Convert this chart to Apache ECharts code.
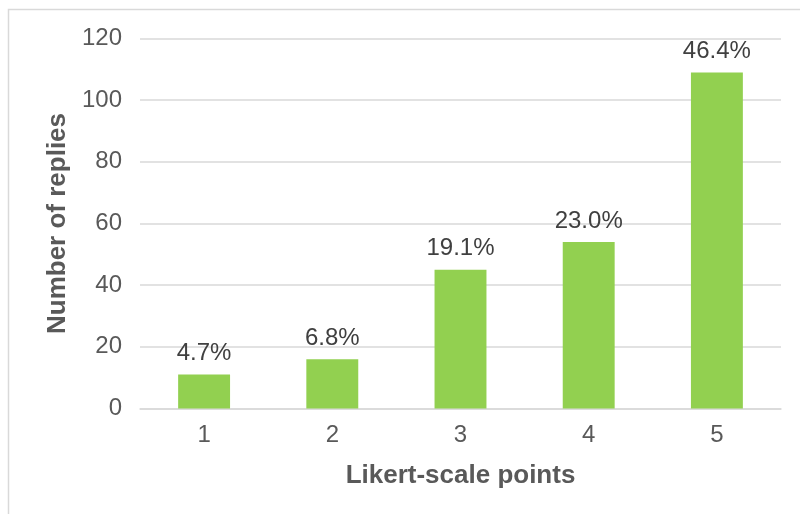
<!DOCTYPE html>
<html>
<head>
<meta charset="utf-8">
<script src="https://cdn.jsdelivr.net/npm/echarts@6/dist/echarts.min.js"></script>
<style>html,body{margin:0;padding:0;background:#fff;}#c{width:800px;height:514px;}</style>
</head>
<body>
<div id="c"></div>
<script>
const categories = ['1', '2', '3', '4', '5'];
const replies = [11, 16, 45, 54, 109];
const percentLabels = ['4.7%', '6.8%', '19.1%', '23.0%', '46.4%'];
const yTicks = [0, 20, 40, 60, 80, 100, 120];

const FONT = 'Liberation Sans, Arial, sans-serif';
const chart = echarts.init(document.getElementById('c'));
chart.setOption({
  animation: false,
  backgroundColor: '#fff',
  graphic: [{
    type: 'rect',
    shape: { x: 8.5, y: 9.5, width: 800, height: 520 },
    style: { fill: 'none', stroke: '#d9d9d9', lineWidth: 1.5 },
    silent: true
  }],
  grid: { left: 140, right: 19, top: 38.5, bottom: 105.5 },
  xAxis: {
    type: 'category',
    data: categories,
    name: 'Likert-scale points',
    nameLocation: 'middle',
    nameGap: 54,
    nameTextStyle: { fontFamily: FONT, fontSize: 26, fontWeight: 'bold', color: '#595959' },
    axisLine: { lineStyle: { color: '#d9d9d9', width: 1.5 } },
    axisTick: { show: false },
    axisLabel: { fontFamily: FONT, fontSize: 24, color: '#595959', margin: 15 }
  },
  yAxis: {
    type: 'value',
    min: yTicks[0],
    max: yTicks[yTicks.length - 1],
    interval: 20,
    name: 'Number of replies',
    nameLocation: 'middle',
    nameGap: 67,
    nameTextStyle: { fontFamily: FONT, fontSize: 26, fontWeight: 'bold', color: '#595959' },
    axisLine: { show: false },
    axisTick: { show: false },
    splitLine: { lineStyle: { color: '#d9d9d9', width: 1.5 } },
    axisLabel: { fontFamily: FONT, fontSize: 24, color: '#595959', margin: 18 }
  },
  series: [{
    type: 'bar',
    data: replies,
    barWidth: '40.5%',
    itemStyle: { color: '#92D050' },
    label: {
      show: true,
      position: 'top',
      distance: 9,
      fontFamily: FONT,
      fontSize: 24,
      color: '#404040',
      formatter: p => percentLabels[p.dataIndex]
    }
  }]
});
</script>
</body>
</html>
